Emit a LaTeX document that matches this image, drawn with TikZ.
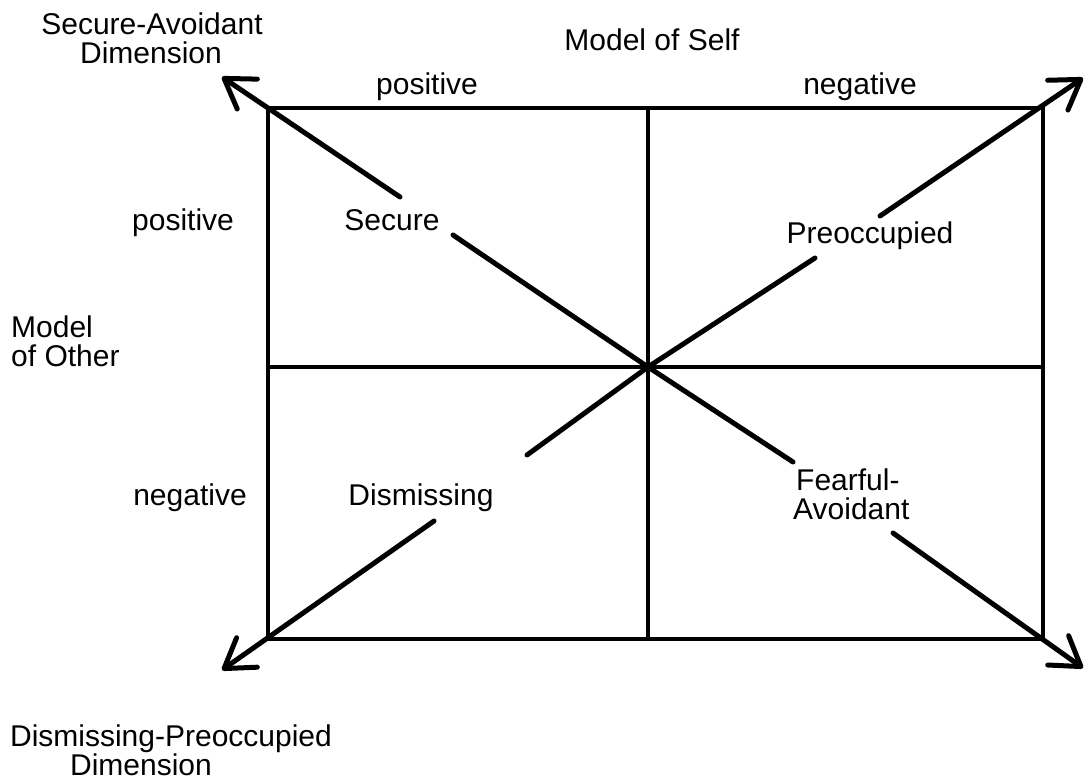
\documentclass[tikz,border=0pt]{standalone}
\usepackage{fontspec}
\setmainfont{Liberation Sans}
\usetikzlibrary{arrows.meta,calc}
\begin{document}
\begin{tikzpicture}[x=1pt,y=-1pt,
  frame/.style={line width=4pt},
  axis/.style={line width=5pt, line cap=round},
  tipend/.style={-{Straight Barb[length=28pt,width=36pt,round]}},
  lbl/.style={font=\fontsize{30}{32}\selectfont, inner sep=0pt,
    text height=21pt, text depth=0pt},
]
\useasboundingbox (0,0) rectangle (1085,784);

% grid corners, mid points and centre
\coordinate (C)  at (648,367);
\coordinate (NW) at (268,108);
\coordinate (NE) at (1043,108);
\coordinate (SE) at (1043,639);
\coordinate (SW) at (268,639);
\coordinate (N)  at (648,108);
\coordinate (S)  at (648,639);
\coordinate (W)  at (268,367);
\coordinate (E)  at (1043,367);

% arrow tips of the two dimensions
\coordinate (tNW) at (222,77);
\coordinate (tNE) at (1083,78);
\coordinate (tSW) at (222,670);
\coordinate (tSE) at (1083,668);

% ends of the diagonal pieces around the quadrant labels
\coordinate (secA) at (453,235);
\coordinate (secB) at (400,197);
\coordinate (preA) at (815,258);
\coordinate (preB) at (880,216);
\coordinate (disA) at (527,455);
\coordinate (disB) at (434,521);
\coordinate (feaA) at (793,462);
\coordinate (feaB) at (893,533);

% frame and cross
\draw[frame] (NW) -- (NE) -- (SE) -- (SW) -- cycle;
\draw[frame] (N) -- (S);
\draw[frame] (W) -- (E);

% Secure-Avoidant dimension
\draw[axis, tipend] (secB) -- (tNW);
\draw[axis] (secA) -- (C) -- (feaA);
\draw[axis, tipend] (feaB) -- (tSE);

% Dismissing-Preoccupied dimension
\draw[axis, tipend] (disB) -- (tSW);
\draw[axis] (disA) -- (C) -- (preA);
\draw[axis, tipend] (preB) -- (tNE);

% labels
\node[lbl] (sad1) at (152,24) {Secure-Avoidant};
\node[lbl] (sad2) at (151,53) {Dimension};
\node[lbl] (mos)  at (652,40) {Model of Self};
\node[lbl] (spos) at (427,84) {positive};
\node[lbl] (sneg) at (860,84) {negative};
\node[lbl] (opos) at (183,220) {positive};
\node[lbl] (oneg) at (190,495) {negative};
\node[lbl, anchor=west] (moo1) at (11,327) {Model};
\node[lbl, anchor=west] (moo2) at (11,356) {of Other};
\node[lbl] (secure) at (392,220) {Secure};
\node[lbl] (preocc) at (870,233) {Preoccupied};
\node[lbl] (dismis) at (421,495) {Dismissing};
\node[lbl, anchor=west] (fear1) at (796,480) {Fearful-};
\node[lbl, anchor=west] (fear2) at (793,509) {Avoidant};
\node[lbl] (dpd1) at (171,736) {Dismissing-Preoccupied};
\node[lbl] (dpd2) at (141,765) {Dimension};
\end{tikzpicture}
\end{document}
